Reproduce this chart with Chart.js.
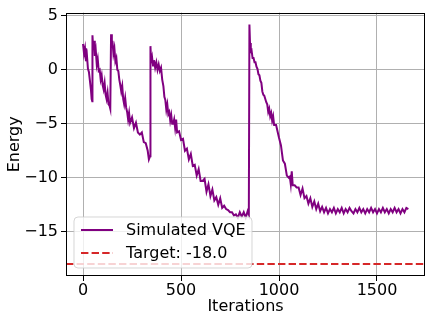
<!DOCTYPE html>
<html>
<head>
<meta charset="utf-8">
<script src="https://cdn.jsdelivr.net/npm/chart.js@4.4.1/dist/chart.umd.min.js"></script>
<style>
  html, body { margin: 0; padding: 0; background: #fff; }
  canvas { display: block; }
</style>
</head>
<body>
<canvas id="c" width="432" height="324"></canvas>
<script>
// ---- Data ----
const ITERATIONS = [
  0,5,10,15,20,25,30,35,40,44,47,
  48,52,56,60,65,70,75,80,85,90,95,100,105,110,115,120,125,130,135,139,
  143,147,150,155,160,165,170,175,180,185,190,195,200,205,210,215,220,225,230,235,240,250,260,270,280,290,300,310,320,330,336,342,
  344,347,352,357,362,368,374,380,386,392,398,404,410,415,420,425,430,435,440,445,450,455,460,465,470,475,480,490,500,510,
  520,530,540,550,560,570,580,590,600,610,620,630,640,650,660,670,680,690,700,710,720,730,740,750,760,770,780,790,800,810,820,830,840,846,
  849,852,856,860,865,870,875,880,885,890,895,900,905,910,915,920,925,930,935,940,945,950,955,960,965,970,975,980,985,990,
  1000,1010,1020,1030,1040,1050,1055,1060,1065,1070,1080,1090,1100,1110,1120,1130,1140,1150,1160,1170,1180,1190,1200,1210,1220,1230,1240,1250,
  1260,1270,1280,1290,1300,1310,1320,1330,1340,1350,1360,1370,1380,1390,1400,1410,1420,1430,1440,1450,
  1460,1470,1480,1490,1500,1510,1520,1530,1540,1550,1560,1570,1580,1590,1600,1610,1620,1630,1640,1650,1660
];
const ENERGY = [
  2.4,1.5,2.0,0.8,1.3,0.1,-0.2,-1.0,-1.8,-2.7,-2.9,
  3.2,1.9,2.7,1.3,1.8,0.5,1.0,-0.1,0.0,-0.9,-0.5,-1.4,-1.8,-1.2,-2.3,-2.7,-2.1,-3.2,-3.3,-3.6,
  3.3,2.1,2.7,1.5,2.0,0.8,1.1,0.0,-0.1,-0.9,-1.4,-2.0,-1.5,-2.7,-3.2,-2.6,-3.5,-3.9,-4.6,-4.0,-4.9,-4.4,-5.4,-4.9,-5.8,-6.0,-5.8,-6.7,-6.8,-7.5,-8.3,-8.0,
  2.2,0.8,1.2,0.4,0.9,0.2,0.7,0.0,0.5,-0.1,0.2,-0.9,-1.5,-2.5,-2.8,-3.7,-3.2,-4.1,-3.9,-4.7,-4.2,-5.0,-5.0,-4.6,-5.4,-4.6,-5.8,-5.7,-6.5,-6.4,
  -7.5,-7.3,-8.3,-7.8,-8.9,-8.8,-9.8,-9.2,-10.3,-10.3,-10.1,-11.3,-10.6,-11.7,-11.1,-12.1,-11.8,-12.5,-11.9,-12.8,-12.6,-12.9,-13.0,-13.2,-13.2,-13.5,-13.4,-13.7,-13.2,-13.6,-13.2,-13.7,-13.1,-13.4,
  4.2,2.5,1.7,1.8,1.1,1.1,0.7,0.7,0.3,0.1,-0.4,-0.5,-1.0,-1.2,-2.0,-2.3,-2.4,-2.7,-3.0,-3.2,-3.9,-3.6,-4.3,-4.0,-4.7,-4.3,-5.1,-5.1,-5.1,-5.5,
  -6.3,-7.0,-8.4,-8.7,-9.8,-10.0,-9.9,-10.6,-9.4,-10.7,-10.7,-10.9,-10.9,-11.6,-11.0,-11.9,-11.7,-12.4,-11.9,-12.7,-12.2,-12.9,-12.4,-13.1,-12.7,-13.2,-12.8,-13.3,
  -12.9,-13.2,-12.8,-13.3,-12.9,-13.2,-12.8,-13.3,-12.9,-13.2,-12.8,-13.1,-13.3,-12.9,-13.2,-12.8,-13.2,-12.9,-13.3,-12.9,
  -13.2,-12.8,-13.2,-12.9,-13.3,-12.9,-13.2,-12.8,-13.2,-12.9,-13.3,-12.9,-13.2,-12.8,-13.2,-12.9,-13.3,-12.9,-13.2,-12.8,-12.9
];
const TARGET_ENERGY = -18.0;
const X_TICKS = [0, 500, 1000, 1500];
const Y_TICKS = [-15, -10, -5, 0, 5];
const X_LIMITS = [-87, 1745];
const Y_LIMITS = [-19.11, 5.31];
const SERIES_LABELS = ['Simulated VQE', 'Target: -18.0'];
const AXIS_TITLES = ['Iterations', 'Energy'];

const FONT = { family: '"DejaVu Sans", sans-serif', size: 16 };

const frameAndLegend = {
  id: 'frameAndLegend',
  afterDatasetsDraw(chart) {
    const { ctx, chartArea: a } = chart;
    ctx.save();
    // axes frame (spines)
    ctx.strokeStyle = '#000';
    ctx.lineWidth = 1;
    ctx.strokeRect(Math.round(a.left) + 0.5, Math.round(a.top) + 0.5,
                   Math.round(a.right - a.left) - 1, Math.round(a.bottom - a.top) - 1);
    // legend box
    const bx = a.left + 8, by = a.bottom - 59, bw = 178, bh = 51, r = 4;
    ctx.beginPath();
    ctx.moveTo(bx + r, by);
    ctx.arcTo(bx + bw, by, bx + bw, by + bh, r);
    ctx.arcTo(bx + bw, by + bh, bx, by + bh, r);
    ctx.arcTo(bx, by + bh, bx, by, r);
    ctx.arcTo(bx, by, bx + bw, by, r);
    ctx.closePath();
    ctx.fillStyle = 'rgba(255,255,255,0.8)';
    ctx.fill();
    ctx.strokeStyle = 'rgba(204,204,204,0.8)';
    ctx.lineWidth = 1;
    ctx.stroke();
    ctx.font = '16px "DejaVu Sans", sans-serif';
    ctx.textBaseline = 'middle';
    ctx.fillStyle = '#000';
    chart.data.datasets.forEach((ds, i) => {
      const y = by + 13 + i * 23;
      ctx.beginPath();
      ctx.setLineDash(ds.borderDash || []);
      ctx.strokeStyle = ds.borderColor;
      ctx.lineWidth = ds.borderWidth;
      ctx.moveTo(bx + 7, y);
      ctx.lineTo(bx + 39, y);
      ctx.stroke();
      ctx.setLineDash([]);
      ctx.fillText(ds.label, bx + 52, y + 1);
    });
    ctx.restore();
  }
};

new Chart(document.getElementById('c'), {
  type: 'line',
  data: {
    datasets: [
      {
        label: SERIES_LABELS[0],
        data: ITERATIONS.map((x, i) => ({ x, y: ENERGY[i] })),
        borderColor: '#800080',
        borderWidth: 2,
        pointRadius: 0,
        tension: 0,
        fill: false
      },
      {
        label: SERIES_LABELS[1],
        data: X_LIMITS.map(x => ({ x, y: TARGET_ENERGY })),
        borderColor: '#d62728',
        borderWidth: 2,
        borderDash: [7.4, 3.2],
        pointRadius: 0,
        fill: false
      }
    ]
  },
  options: {
    responsive: false,
    animation: false,
    devicePixelRatio: 1,
    layout: { padding: { top: 9, right: 7, left: 0, bottom: 0 } },
    plugins: { legend: { display: false }, tooltip: { enabled: false } },
    scales: {
      x: {
        type: 'linear',
        min: X_LIMITS[0], max: X_LIMITS[1],
        afterBuildTicks: s => { s.ticks = X_TICKS.map(v => ({ value: v })); },
        afterFit: s => { s.height = 48; },
        grid: { color: '#b0b0b0', lineWidth: 1, tickColor: '#000', tickLength: 5, drawTicks: true },
        border: { display: false },
        ticks: { font: FONT, color: '#000', padding: 0, maxRotation: 0, callback: v => String(v) },
        title: { display: true, text: AXIS_TITLES[0], font: FONT, color: '#000', padding: { top: 0, bottom: 8 } }
      },
      y: {
        type: 'linear',
        min: Y_LIMITS[0], max: Y_LIMITS[1],
        afterBuildTicks: s => { s.ticks = Y_TICKS.map(v => ({ value: v })); },
        afterFit: s => { s.width = 66; },
        grid: { color: '#b0b0b0', lineWidth: 1, tickColor: '#000', tickLength: 5, drawTicks: true },
        border: { display: false },
        ticks: {
          font: FONT, color: '#000', padding: 3,
          callback: v => (v < 0 ? '\u2212' + Math.abs(v) : String(v))
        },
        title: { display: true, text: AXIS_TITLES[1], font: FONT, color: '#000', padding: { top: 5, bottom: 0 } }
      }
    }
  },
  plugins: [frameAndLegend]
});
</script>
</body>
</html>
